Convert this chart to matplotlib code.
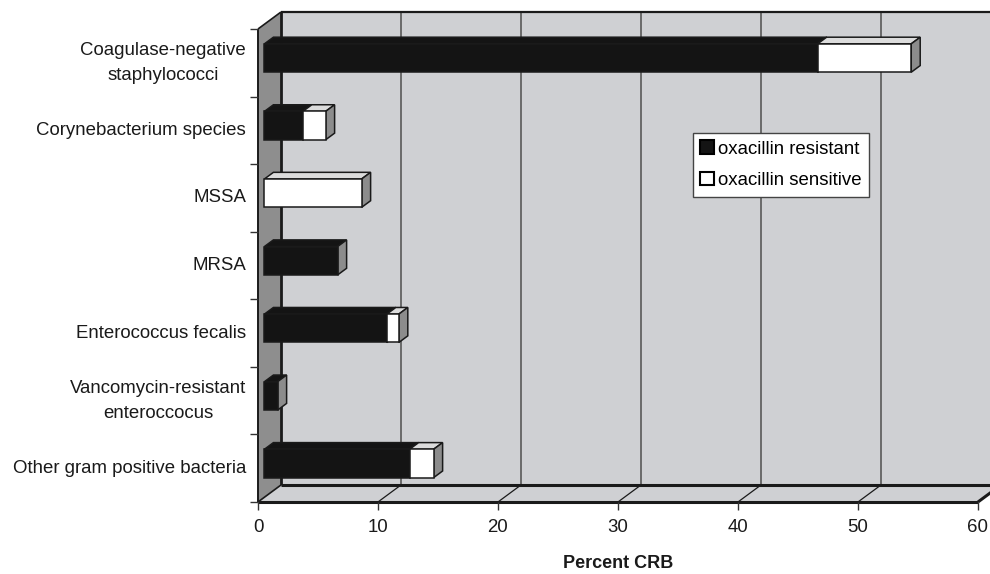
import matplotlib
matplotlib.use("Agg")
import matplotlib.pyplot as plt
from matplotlib.patches import Polygon, Patch

plt.rcParams['font.family'] = ['Liberation Sans', 'DejaVu Sans']

# --- data -------------------------------------------------------------
categories = [
    "Coagulase-negative\nstaphylococci",
    "Corynebacterium species",
    "MSSA",
    "MRSA",
    "Enterococcus fecalis",
    "Vancomycin-resistant\nenteroccocus",
    "Other gram positive bacteria",
]
resistant = [46.1, 3.2, 0.0, 6.1, 10.2, 1.1, 12.1]
sensitive = [7.8, 1.9, 8.1, 0.0, 1.0, 0.0, 2.0]
x_ticks = [0, 10, 20, 30, 40, 50, 60]
series_names = ["oxacillin resistant", "oxacillin sensitive"]
x_title = "Percent CRB"

# --- 3-D box geometry (value units / category units) -------------------
DX = 1.9167      # depth shift along the value axis
DY = 0.2516      # depth shift along the category axis (upwards)
F0, F1 = 0.28, 0.67   # bar front / back depth fractions
H = 0.21              # half bar thickness
n = len(categories)
top, bottom = -0.5, n - 0.5
vmax = x_ticks[-1]

WALL = "#cfd0d3"
SIDE_WALL = "#8e8e8e"
EDGE = "#1a1a1a"
FS = 13.4


def P(v, c, f):
    return (v + f * DX, c - f * DY)


fig = plt.figure(figsize=(9.9, 5.74), dpi=100)
ax = fig.add_axes([0, 0, 1, 1])
ax.set_xlim(-21.5, 61.0)
ax.set_ylim(7.566, -0.929)
ax.axis("off")


def poly(pts, fc, ec="none", lw=0.0, z=1):
    ax.add_patch(Polygon(pts, closed=True, facecolor=fc, edgecolor=ec,
                         linewidth=lw, zorder=z, joinstyle="miter"))


def line(p, q, color=EDGE, lw=1.0, z=3):
    ax.plot([p[0], q[0]], [p[1], q[1]], color=color, lw=lw, zorder=z,
            solid_capstyle="butt")


# back wall
poly([P(0, top, 1), P(vmax + 2, top, 1), P(vmax + 2, bottom, 1), P(0, bottom, 1)], WALL, z=1)
for v in x_ticks[1:-1]:
    line(P(v, top, 1), P(v, bottom, 1), color="#6a6a6a", lw=1.4, z=2)

# floor
poly([P(0, bottom, 0), P(vmax, bottom, 0), P(vmax, bottom, 1), P(0, bottom, 1)], WALL, z=1)
for v in x_ticks[1:]:
    line(P(v, bottom, 0), P(v, bottom, 1), color=EDGE,
         lw=2.2 if v == vmax else 0.9, z=2)

# left side wall
poly([P(0, top, 0), P(0, top, 1), P(0, bottom, 1), P(0, bottom, 0)], SIDE_WALL, z=1)

# frame edges
line(P(0, top, 1), P(0, bottom, 1), lw=2.0)
line(P(0, top, 1), P(vmax + 2, top, 1), lw=1.6)
line(P(0, bottom, 1), P(vmax + 2, bottom, 1), lw=2.2)
line(P(0, bottom, 0), P(vmax, bottom, 0), lw=2.2)
line(P(0, top, 0), P(0, bottom, 0), lw=1.4)
line(P(0, top, 0), P(0, top, 1), lw=1.2)
line(P(0, bottom, 0), P(0, bottom, 1), lw=1.2)

# category ticks and labels
for k in range(n + 1):
    line((-0.7, k - 0.5), (0, k - 0.5), color="#333333", lw=1.0)
for i, name in enumerate(categories):
    ax.text(-1.0, i, name, ha="right", va="center", multialignment="center",
            fontsize=FS, color="#1a1a1a", linespacing=1.62)

# value ticks and labels
for v in x_ticks:
    line((v, bottom), (v, bottom + 0.12), color="#333333", lw=1.0)
    ax.text(v, bottom + 0.38, str(v), ha="center", va="center",
            fontsize=FS, color="#1a1a1a")
ax.text(vmax / 2, bottom + 0.91, x_title, ha="center", va="center",
        fontsize=13.0, fontweight="bold", color="#1a1a1a")

# stacked 3-D bars
styles = [
    dict(front="#141414", top="#141414", side="#8c8c8c"),
    dict(front="#ffffff", top="#dcdcdc", side="#8c8c8c"),
]
for i in range(n):
    start = 0.0
    for vals, st in zip((resistant, sensitive), styles):
        w = vals[i]
        if w <= 0:
            continue
        a, b = start, start + w
        c0, c1 = i - H, i + H
        poly([P(a, c0, F0), P(b, c0, F0), P(b, c0, F1), P(a, c0, F1)],
             st["top"], EDGE, 1.1, z=5)
        poly([P(b, c0, F0), P(b, c0, F1), P(b, c1, F1), P(b, c1, F0)],
             st["side"], EDGE, 1.1, z=5)
        poly([P(a, c0, F0), P(b, c0, F0), P(b, c1, F0), P(a, c1, F0)],
             st["front"], EDGE, 1.1, z=6)
        start = b

# legend
handles = [Patch(facecolor=st["front"], edgecolor="#000000", linewidth=1.5)
           for st in styles]
leg = ax.legend(handles, series_names, loc="upper left",
                bbox_to_anchor=(693 / 990, 1 - 133 / 574),
                bbox_transform=fig.transFigure, fontsize=FS,
                frameon=True, fancybox=False, framealpha=1.0,
                edgecolor="#444444", handlelength=0.72, handleheight=0.72,
                handletextpad=0.2, borderpad=0.4, labelspacing=0.78,
                borderaxespad=0.0)
leg.get_frame().set_linewidth(1.0)
leg.set_zorder(10)

fig.savefig("out.png", dpi=100)
